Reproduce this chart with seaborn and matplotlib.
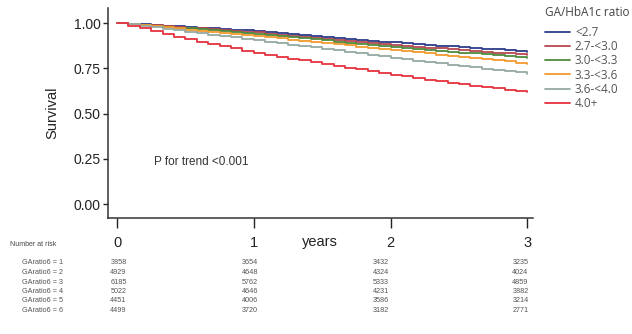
import numpy as np
import pandas as pd
import seaborn as sns
import matplotlib.pyplot as plt

# Kaplan-Meier style survival at monthly steps
months = list(range(37))
groups = ["<2.7", "2.7-<3.0", "3.0-<3.3", "3.3-<3.6", "3.6-<4.0", "4.0+"]

surv_lt27 = [1.000, 0.996, 0.993, 0.989, 0.985, 0.981, 0.978, 0.974, 0.970, 0.966,
             0.963, 0.959, 0.955, 0.950, 0.945, 0.939, 0.934, 0.929, 0.924, 0.919,
             0.914, 0.908, 0.903, 0.898, 0.893, 0.889, 0.884, 0.880, 0.876, 0.872,
             0.867, 0.863, 0.859, 0.855, 0.850, 0.846, 0.842]
surv_27_30 = [1.000, 0.996, 0.991, 0.987, 0.983, 0.978, 0.974, 0.970, 0.965, 0.961,
              0.957, 0.952, 0.948, 0.942, 0.936, 0.931, 0.925, 0.919, 0.913, 0.907,
              0.901, 0.896, 0.890, 0.884, 0.878, 0.873, 0.869, 0.864, 0.860, 0.855,
              0.850, 0.846, 0.841, 0.837, 0.832, 0.828, 0.823]
surv_30_33 = [1.000, 0.995, 0.990, 0.985, 0.980, 0.975, 0.970, 0.965, 0.960, 0.955,
              0.950, 0.945, 0.940, 0.934, 0.928, 0.922, 0.916, 0.910, 0.904, 0.898,
              0.892, 0.886, 0.880, 0.874, 0.868, 0.863, 0.858, 0.853, 0.847, 0.842,
              0.837, 0.832, 0.827, 0.822, 0.816, 0.811, 0.806]
surv_33_36 = [1.000, 0.994, 0.988, 0.982, 0.976, 0.970, 0.964, 0.958, 0.952, 0.946,
              0.940, 0.934, 0.928, 0.922, 0.915, 0.909, 0.902, 0.896, 0.890, 0.883,
              0.877, 0.870, 0.864, 0.857, 0.851, 0.845, 0.839, 0.832, 0.826, 0.820,
              0.813, 0.807, 0.801, 0.795, 0.788, 0.782, 0.776]
surv_36_40 = [1.000, 0.992, 0.984, 0.976, 0.968, 0.960, 0.952, 0.944, 0.936, 0.929,
              0.921, 0.913, 0.905, 0.897, 0.889, 0.881, 0.873, 0.865, 0.857, 0.849,
              0.841, 0.833, 0.824, 0.816, 0.808, 0.800, 0.793, 0.785, 0.777, 0.770,
              0.762, 0.755, 0.748, 0.741, 0.734, 0.727, 0.720]
surv_40p = [1.000, 0.985, 0.970, 0.955, 0.940, 0.925, 0.911, 0.898, 0.886, 0.873,
            0.860, 0.848, 0.835, 0.825, 0.815, 0.804, 0.794, 0.783, 0.773, 0.763,
            0.754, 0.744, 0.734, 0.725, 0.715, 0.706, 0.697, 0.688, 0.679, 0.670,
            0.661, 0.654, 0.647, 0.639, 0.632, 0.624, 0.618]
curves = [surv_lt27, surv_27_30, surv_30_33, surv_33_36, surv_36_40, surv_40p]

colors = ["#2c3b88", "#b5464f", "#4e8b3d", "#f39a2e", "#94aaa3", "#e5323e"]

# number at risk table
risk_years = [0, 1, 2, 3]
risk_labels = ["GAratio6 = 1", "GAratio6 = 2", "GAratio6 = 3",
               "GAratio6 = 4", "GAratio6 = 5", "GAratio6 = 6"]
risk_counts = [
    [3858, 3654, 3432, 3235],
    [4929, 4648, 4324, 4024],
    [6185, 5762, 5333, 4859],
    [5022, 4646, 4231, 3882],
    [4451, 4006, 3586, 3214],
    [4499, 3720, 3182, 2771],
]

rows = []
for g, vals in zip(groups, curves):
    for m, v in zip(months, vals):
        rows.append({"years": m / 12, "surv": v, "group": g})
df = pd.DataFrame(rows)

sns.set_style("ticks")
plt.rcParams["font.family"] = ["Liberation Sans", "DejaVu Sans"]

fig = plt.figure(figsize=(6.32, 3.34), dpi=100)
ax = fig.add_axes([0.171, 0.347, 0.672, 0.629])

sns.lineplot(data=df, x="years", y="surv", hue="group", hue_order=groups,
             palette=dict(zip(groups, colors)), drawstyle="steps-post",
             linewidth=1.3, errorbar=None, ax=ax)

ax.set_xlim(-0.066, 3.04)
ax.set_ylim(-0.077, 1.083)
ax.set_xticks(risk_years)
ax.set_xticklabels([str(y) for y in risk_years], fontsize=10.5)
ax.set_yticks([0, 0.25, 0.5, 0.75, 1.0])
ax.set_yticklabels(["0.00", "0.25", "0.50", "0.75", "1.00"], fontsize=10)
ax.tick_params(axis="x", length=7, width=1, pad=6, colors="#222222")
ax.tick_params(axis="y", length=3.6, width=1, pad=1.5, colors="#222222")
for s in ["left", "bottom"]:
    ax.spines[s].set_linewidth(1.1)
    ax.spines[s].set_color("#333333")
sns.despine(ax=ax)

ax.set_xlabel("")
ax.set_ylabel("Survival", fontsize=10.5, color="#222222")
ax.yaxis.set_label_coords(-0.115, 0.5)

ax.text(0.27, 0.232, "P for trend <0.001", fontsize=8.5, color="#333333",
        va="center", ha="left")

legend_font = ["Open Sans", "DejaVu Sans"]
handles, labels = ax.get_legend_handles_labels()
ax.legend(handles, labels, loc="upper left",
          bbox_to_anchor=(0.862, 0.922), bbox_transform=fig.transFigure,
          frameon=False, borderpad=0, borderaxespad=0, handlelength=2.1,
          handletextpad=0.45, labelspacing=0.1,
          prop={"family": legend_font, "size": 8.5})
for t in ax.get_legend().get_texts():
    t.set_color("#555555")
fig.text(545 / 632, 1 - 13 / 334, "GA/HbA1c ratio", fontsize=8.5,
         family=legend_font, color="#444444", ha="left", va="center")

fig.text(320 / 632, 1 - 242 / 334, "years", fontsize=10.5, color="#222222",
         ha="center", va="center")

# number at risk table
fig.text(10 / 632, 1 - 245 / 334, "Number at risk", fontsize=5, color="#444444",
         ha="left", va="center")
col_x = [0.01, 0.97, 1.93, 2.95]
for i, (lab, counts) in enumerate(zip(risk_labels, risk_counts)):
    yfig = 1 - (263 + i * 9.5) / 334
    fig.text(22 / 632, yfig, lab, fontsize=5.2, color="#555555", ha="left", va="center")
    for cx, n in zip(col_x, counts):
        xfig = fig.transFigure.inverted().transform(ax.transData.transform((cx, 0)))[0]
        fig.text(xfig, yfig, str(n), fontsize=5.2, color="#555555", ha="center", va="center")

fig.savefig("out.png", dpi=100)
